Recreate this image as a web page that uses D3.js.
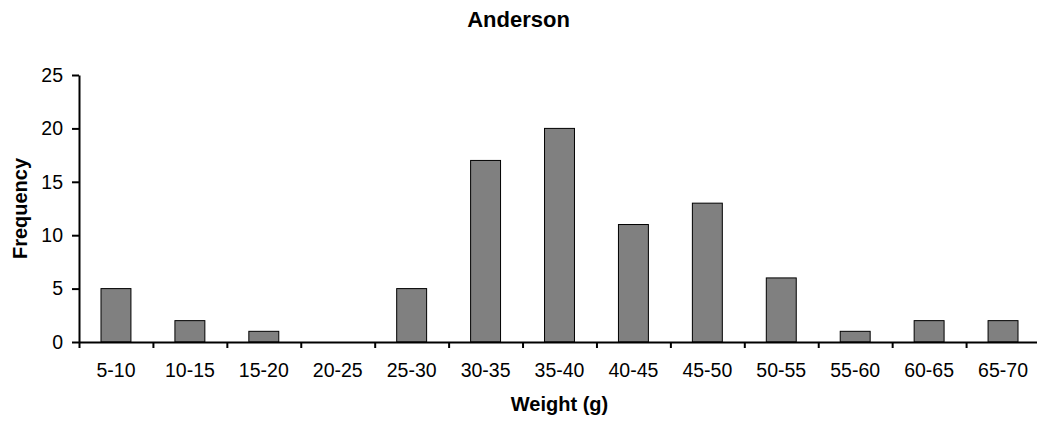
<!DOCTYPE html>
<html>
<head>
<meta charset="utf-8">
<script src="https://cdn.jsdelivr.net/npm/d3@7"></script>
<style>
  body { margin: 0; background: #fff; }
  text { font-family: "Liberation Sans", Arial, sans-serif; }
</style>
</head>
<body>
<div id="chart"></div>
<script>
// weight classes and how many fish fell in each
var categories = ["5-10", "10-15", "15-20", "20-25", "25-30", "30-35", "35-40",
                  "40-45", "45-50", "50-55", "55-60", "60-65", "65-70"];
var frequency = [5, 2, 1, 0, 5, 17, 20, 11, 13, 6, 1, 2, 2];
var yTicks = [0, 5, 10, 15, 20, 25];

var chartTitle = "Anderson";
var xTitle = "Weight (g)";
var yTitle = "Frequency";

var data = categories.map(function(c, i) {
    return { range: c, count: frequency[i] };
});

var width = 1037;
var height = 421;
var plot = { left: 79, right: 1040, top: 75, bottom: 342 };

var svg = d3.select('#chart')
        .append('svg')
        .attr('width', width)
        .attr('height', height);

//band scale for the bars, outer padding is half the inner so each step = range / n
var x = d3.scaleBand()
        .domain(categories)
        .range([plot.left, plot.right])
        .paddingInner(0.595)
        .paddingOuter(0.2975);

//the tick marks sit between the classes, not under them
var xEdge = d3.scaleLinear()
        .domain([0, categories.length])
        .range([plot.left, plot.right]);

var y = d3.scaleLinear()
        .domain([0, 25])
        .range([plot.bottom, plot.top]);

svg.selectAll(".bar")
    .data(data)
    .enter()
        .append("rect")
        .attr("class", "bar")
        .attr("x", function(d) { return x(d.range); })
        .attr("y", function(d) { return y(d.count); })
        .attr("width", x.bandwidth())
        .attr("height", function(d) { return y(0) - y(d.count); })
        .attr("fill", "#808080")
        .attr("stroke", "#000")
        .attr("stroke-width", 1);

//x tick marks + axis line
var xTickAxis = svg.append("g")
    .attr("transform", "translate(0," + plot.bottom + ")")
    .call(d3.axisBottom(xEdge)
        .tickValues(d3.range(categories.length + 1))
        .tickSize(6)
        .tickSizeOuter(0)
        .tickFormat(""));

//x labels centred under each bar
var xLabels = svg.append("g")
    .attr("transform", "translate(0," + plot.bottom + ")")
    .call(d3.axisBottom(x).tickSize(0).tickPadding(21));
xLabels.select(".domain").remove();

//y axis
var yAxis = svg.append("g")
    .attr("transform", "translate(" + plot.left + ",0)")
    .call(d3.axisLeft(y)
        .tickValues(yTicks)
        .tickSize(7)
        .tickSizeOuter(0)
        .tickPadding(9));

svg.selectAll(".tick text")
    .attr("fill", "#000")
    .style("font-size", "19.5px");

svg.selectAll(".domain, .tick line")
    .attr("stroke", "#000")
    .attr("stroke-width", 2);

//titles
svg.append("text")
    .attr("x", width / 2)
    .attr("y", 27)
    .attr("text-anchor", "middle")
    .style("font-size", "22px")
    .style("font-weight", "bold")
    .text(chartTitle);

svg.append("text")
    .attr("x", (plot.left + plot.right) / 2)
    .attr("y", 411)
    .attr("text-anchor", "middle")
    .style("font-size", "20px")
    .style("font-weight", "bold")
    .text(xTitle);

svg.append("text")
    .attr("transform", "translate(27," + (plot.top + plot.bottom) / 2 + ") rotate(-90)")
    .attr("text-anchor", "middle")
    .style("font-size", "20px")
    .style("font-weight", "bold")
    .text(yTitle);
</script>
</body>
</html>
